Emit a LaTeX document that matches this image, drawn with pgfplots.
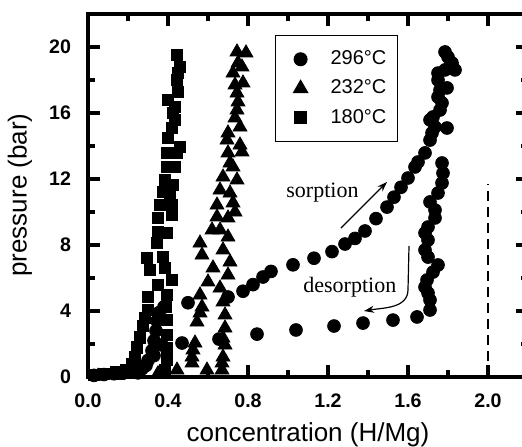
\documentclass[border=0pt]{standalone}
\usepackage{fontspec}
\setmainfont{Liberation Sans}
\newfontfamily\serif{Liberation Serif}
\usepackage{pgfplots}
\pgfplotsset{compat=1.18}
\usetikzlibrary{arrows.meta}
\pgfplotsset{wideleg/.style={legend image code/.code={%
    \path[draw=none, fill=none] (-7pt,-7.3pt) rectangle (15pt,7.3pt);
    \draw[##1] plot coordinates {(0pt,0pt)};}}}
\begin{document}
\begin{tikzpicture}
\useasboundingbox (-44pt,-34.5pt) rectangle (217pt,188.5pt);
\clip (-44pt,-34.5pt) rectangle (217pt,188.5pt);
\begin{axis}[
    scale only axis,
    width=220pt, height=181.5pt,
    xmin=0, xmax=2.2, ymin=0, ymax=22,
    axis line style={line width=2.2pt},
    tick style={line width=2pt, black},
    major tick length=6pt, minor tick length=3.5pt,
    tick align=inside,
    xtick={0,0.4,0.8,1.2,1.6,2.0},
    ytick={0,4,8,12,16,20},
    minor x tick num=1, minor y tick num=1,
    /pgf/number format/assume math mode=true,
    ticklabel style={font=\bfseries\fontsize{9.8}{11}\selectfont},
    xticklabel style={/pgf/number format/.cd, fixed, fixed zerofill, precision=1, /tikz/.cd, yshift=-5pt},
    yticklabel style={xshift=-5pt},
    legend style={at={(rel axis cs:0.425,0.942)}, anchor=north west, draw=black, line width=0.6pt,
        font=\fontsize{10}{12}\selectfont, row sep=0pt, column sep=0pt,
        inner xsep=5.5pt, inner ysep=4.5pt, nodes={inner sep=0pt}},
    legend cell align=left,
]
% 296 C
\addplot[only marks, mark=*, mark size=3.2pt, black, wideleg] coordinates {
(0.03,0.1)(0.08,0.15)(0.13,0.2)(0.18,0.3)(0.22,0.5)(0.27,0.5)(0.30,1.0)(0.32,1.6)(0.33,2.2)
(0.34,2.8)(0.345,3.4)(0.355,3.9)(0.38,4.25)(0.50,4.5)(0.70,4.85)(0.775,5.2)(0.825,5.6)
(0.875,6.06)(0.915,6.4)(1.025,6.8)(1.13,7.2)(1.22,7.6)(1.285,8.06)(1.335,8.4)(1.385,8.85)
(1.44,9.6)(1.495,10.3)(1.53,10.9)(1.565,11.5)(1.60,12.06)(1.635,12.73)(1.65,13.03)
(1.685,13.58)(1.71,14.36)(1.72,14.79)(1.735,15.15)(1.71,15.58)(1.725,15.76)(1.795,15.09)
(1.76,16.18)(1.77,16.61)(1.75,16.97)(1.76,17.39)(1.795,17.52)(1.75,18.0)(1.75,18.42)
(1.785,18.61)(1.82,19.03)(1.835,18.61)(1.80,19.39)(1.785,19.70)
(1.77,12.97)(1.775,12.36)(1.77,11.76)(1.75,11.15)(1.71,10.61)(1.735,10.12)(1.735,9.64)
(1.70,9.09)(1.685,8.73)(1.70,8.30)(1.685,7.70)(1.70,7.27)(1.75,6.79)(1.725,6.36)
(1.695,5.88)(1.685,5.45)(1.70,5.09)(1.71,4.67)(1.71,4.06)(1.645,3.64)(1.525,3.45)
(1.375,3.27)(1.23,3.09)(1.04,2.85)(0.845,2.6)(0.655,2.3)(0.47,2.06)(0.37,1.94)
(0.33,1.3)(0.29,0.7)(0.25,0.25)
};
\addlegendentry{296°C}
% 232 C
\addplot[only marks, mark=triangle*, mark size=4pt, black, wideleg] coordinates {
(0.745,19.70)(0.79,19.64)(0.75,19.03)(0.77,18.79)(0.725,18.42)(0.775,17.82)(0.735,17.70)
(0.745,17.21)(0.75,16.67)(0.745,16.18)(0.735,15.70)(0.76,15.15)(0.70,14.79)(0.695,14.36)
(0.76,14.06)(0.77,13.64)(0.70,13.58)(0.71,12.97)(0.725,12.73)(0.675,12.12)(0.745,11.94)
(0.66,11.33)(0.71,11.15)(0.645,10.42)(0.725,10.55)(0.735,10.0)(0.645,9.70)(0.70,9.64)
(0.62,8.91)(0.66,8.91)(0.70,8.48)(0.56,8.12)(0.57,7.39)(0.675,7.70)(0.71,6.97)
(0.625,6.61)(0.70,6.18)(0.60,5.76)(0.66,5.39)(0.56,4.97)(0.675,4.55)(0.57,4.24)
(0.685,3.76)(0.56,3.88)(0.545,3.33)(0.685,2.97)(0.675,2.36)(0.685,1.94)(0.535,2.06)
(0.525,1.64)(0.52,1.21)(0.52,0.85)(0.675,1.21)(0.67,0.85)(0.67,0.42)(0.445,0.42)
(0.595,0.42)(0.05,0.05)(0.15,0.1)(0.25,0.15)(0.35,0.2)
};
\addlegendentry{232°C}
% 180 C
\addplot[only marks, mark=square*, mark size=2.8pt, black, wideleg] coordinates {
(0.445,19.52)(0.46,18.79)(0.45,18.42)(0.445,18.0)(0.45,17.27)(0.40,16.79)(0.435,16.36)
(0.425,16.0)(0.435,15.58)(0.42,15.09)(0.40,14.48)(0.46,13.94)(0.395,13.58)(0.445,13.58)
(0.395,12.73)(0.435,12.73)(0.385,11.94)(0.425,11.64)(0.375,11.21)(0.41,10.91)(0.36,10.42)
(0.42,10.42)(0.35,9.64)(0.42,9.82)(0.35,8.79)(0.395,8.73)(0.345,8.12)(0.295,7.21)
(0.375,7.27)(0.31,6.48)(0.385,6.61)(0.35,5.58)(0.42,5.88)(0.30,4.85)(0.395,4.97)
(0.30,4.06)(0.39,4.24)(0.395,3.45)(0.395,2.55)(0.395,1.76)(0.395,1.03)(0.385,0.42)
(0.03,0.15)(0.08,0.2)(0.14,0.3)(0.19,0.45)(0.22,0.8)(0.235,1.2)(0.245,1.8)(0.26,2.4)
(0.275,3.1)(0.285,3.6)
};
\addlegendentry{180°C}
\addplot[forget plot, black, line width=0.9pt, dash pattern=on 5pt off 3pt] coordinates {(2,0) (2,11.7)};
\draw[-{Stealth[length=5pt,width=3.5pt]}, line width=0.6pt] (axis cs:1.265,9.03) -- (axis cs:1.495,11.82);
\draw[-{Stealth[length=5pt,width=3.5pt]}, line width=0.6pt] (axis cs:1.605,7.94) -- (axis cs:1.6,5.3) to[out=-90,in=10] (axis cs:1.38,4.0);
\node[anchor=base west, inner sep=0pt, font=\serif\fontsize{11}{13}\selectfont] at (axis cs:0.99,10.85) {sorption};
\node[anchor=base west, inner sep=0pt, font=\serif\fontsize{11}{13}\selectfont] at (axis cs:1.075,5.15) {desorption};
\end{axis}
\node[rotate=90, font=\fontsize{13}{15}\selectfont] at (-34pt,91pt) {pressure (bar)};
\node[anchor=base, font=\fontsize{13}{15}\selectfont] at (110pt,-32pt) {concentration (H/Mg)};
\end{tikzpicture}
\end{document}
